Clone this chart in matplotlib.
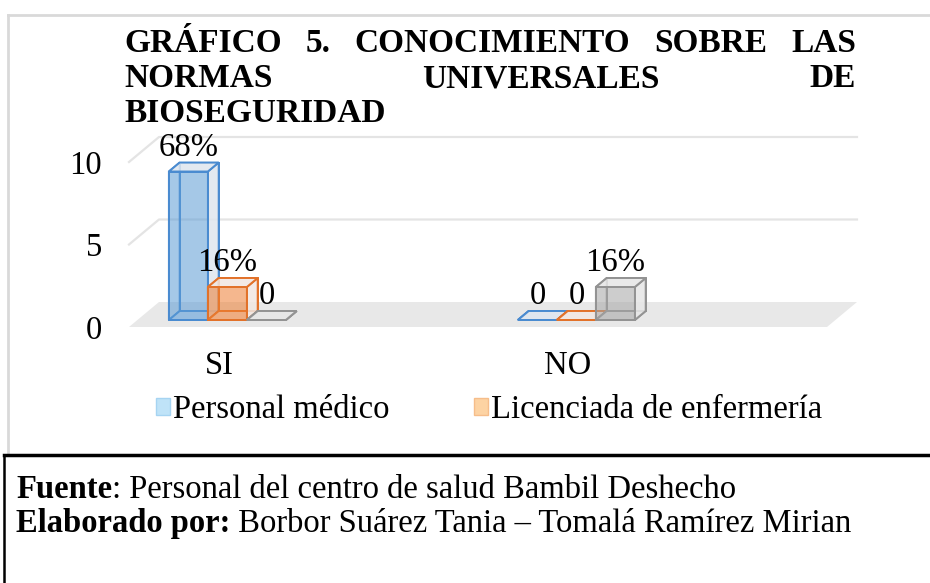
import numpy as np
import matplotlib.pyplot as plt
from matplotlib.patches import Polygon, Rectangle
from matplotlib.lines import Line2D

plt.rcParams['font.family'] = ['Liberation Serif', 'DejaVu Serif']

# datos
categorias = ['SI', 'NO']
leyenda = ['Personal médico', 'Licenciada de enfermería']
medico = [9, 0]
enfermeria = [2, 0]
otros = [0, 2]
etq_medico = ['68%', '0']
etq_enfermeria = ['16%', '0']
etq_otros = ['0', '16%']
yticks = [0, 5, 10]

W, H = 930, 583
fig = plt.figure(figsize=(W / 100, H / 100), dpi=100)
renderer = fig.canvas.get_renderer()

# ejes: plano frontal del grafico 3D
px_cat = 349.0
ppu = 16.5
x_izq, x_der = (129 - 219) / px_cat, (827 - 219) / px_cat
ax = fig.add_axes([129 / W, (H - 327) / H, (827 - 129) / W, 10 * ppu / H])
ax.set_xlim(x_izq, x_der)
ax.set_ylim(0, 10)
for s in ax.spines.values():
    s.set_visible(False)
ax.patch.set_visible(False)

DX = 30 / px_cat
DY = 25 / ppu

def proj(x, v, z):
    return (x + z * DX, v + z * DY)

# suelo y lineas de division
suelo = [proj(x_izq, 0, 0), proj(x_der, 0, 0), proj(x_der, 0, 1), proj(x_izq, 0, 1)]
ax.add_patch(Polygon(suelo, closed=True, fc='#e8e8e8', ec='none', clip_on=False, zorder=1))
for v in yticks[1:]:
    pts = [proj(x_izq, v, 0), proj(x_izq, v, 1), proj(x_der, v, 1)]
    ax.plot([p[0] for p in pts], [p[1] for p in pts], color='#e4e4e4', lw=1.6,
            clip_on=False, zorder=1)

ancho = 39 / px_cat
z0, z1 = 0.28, 0.64
estilos = [
    ('#5b9bd5', '#4a8bd0', '#dfe6ee'),
    ('#ed7d31', '#e2722a', '#f1e7e2'),
    ('#a5a5a5', '#939393', '#e6e6e6'),
]

def caja(x0, x1, h, color, borde, claro, zo):
    P = proj
    caras = [
        ([P(x0, 0, z1), P(x1, 0, z1), P(x1, h, z1), P(x0, h, z1)], 'none', 1),
        ([P(x0, 0, z0), P(x0, 0, z1), P(x0, h, z1), P(x0, h, z0)], 'none', 1),
        ([P(x0, 0, z0), P(x1, 0, z0), P(x1, 0, z1), P(x0, 0, z1)], claro, 1),
        ([P(x1, 0, z0), P(x1, 0, z1), P(x1, h, z1), P(x1, h, z0)], claro, 0.85),
        ([P(x0, h, z0), P(x1, h, z0), P(x1, h, z1), P(x0, h, z1)], claro, 0.85),
        ([P(x0, 0, z0), P(x1, 0, z0), P(x1, h, z0), P(x0, h, z0)], color, 0.55),
    ]
    for k, (pts, fc, a) in enumerate(caras):
        if fc != 'none':
            ax.add_patch(Polygon(pts, closed=True, fc=fc, alpha=a, ec='none',
                                 clip_on=False, zorder=zo + k * 0.01))
        ax.add_patch(Polygon(pts, closed=True, fc='none', ec=borde, lw=1.4,
                             clip_on=False, zorder=zo + k * 0.01 + 0.005))

valores = [medico, enfermeria, otros]
etiquetas = [etq_medico, etq_enfermeria, etq_otros]
for j in range(len(categorias)):
    for i, (vals, etq) in enumerate(zip(valores, etiquetas)):
        x0 = j + (i - 1.5) * ancho
        x1 = x0 + ancho
        color, borde, claro = estilos[i]
        caja(x0, x1, vals[j], color, borde, claro, 2 + i)
        xc, yc = proj((x0 + x1) / 2, vals[j], z1)
        xc = xc - (z1 - z0) * DX
        ax.annotate(etq[j], (xc, yc), xytext=(0, 5), textcoords='offset points',
                    ha='center', va='baseline', fontsize=23.5, annotation_clip=False,
                    zorder=10)

ax.set_yticks(yticks)
ax.set_xticks(range(len(categorias)), categorias)
ax.tick_params(axis='y', length=0, pad=19.5, labelsize=23.5)
ax.tick_params(axis='x', length=0, pad=17, labelsize=23.5)

# leyenda
manijas = [Rectangle((0, 0), 1, 1, fc='#bfe3f8', ec='#a6d4f2', lw=1),
           Rectangle((0, 0), 1, 1, fc='#fdd3a3', ec='#f6bd8a', lw=1)]
fig.legend(manijas, leyenda, loc='center left', bbox_to_anchor=(156 / W, 1 - 410 / H),
           ncol=2, frameon=False, fontsize=23.5, handlelength=0.42, handleheight=0.45,
           handletextpad=0.1, columnspacing=2.6, borderpad=0, borderaxespad=0)

# titulo justificado
def linea(palabras, y, x0, x1, justificar=True, **kw):
    textos = [fig.text(0, 1 - y / H, p, va='baseline', ha='left', **kw) for p in palabras]
    anchos = [t.get_window_extent(renderer).width for t in textos]
    if justificar and len(palabras) > 1:
        hueco = (x1 - x0 - sum(anchos)) / (len(palabras) - 1)
    else:
        hueco = 0
    x = x0
    for t, a in zip(textos, anchos):
        t.set_x(x / W)
        x += a + hueco

tit = dict(fontsize=24, fontweight='bold')
linea(['GRÁFICO', '5.', 'CONOCIMIENTO', 'SOBRE', 'LAS'], 52, 124, 856, **tit)
linea(['NORMAS', 'UNIVERSALES', 'DE'], 87, 124, 856, **tit)
linea(['BIOSEGURIDAD'], 122, 124, 856, justificar=False, **tit)

# fuente
def mixto(partes, y, x0):
    x = x0
    for txt, peso in partes:
        t = fig.text(x / W, 1 - y / H, txt, va='baseline', ha='left', fontsize=23.5,
                     fontweight=peso)
        x += t.get_window_extent(renderer).width

mixto([('Fuente', 'bold'), (': Personal del centro de salud Bambil Deshecho', 'normal')], 498, 16)
mixto([('Elaborado por:', 'bold'), (' Borbor Suárez Tania – Tomalá Ramírez Mirian', 'normal')], 532, 16)

# bordes
fig.add_artist(Line2D([8 / W, 1], [1 - 15 / H] * 2, color='#d9d9d9', lw=2))
fig.add_artist(Line2D([8 / W] * 2, [1 - 15 / H, 1 - 455 / H], color='#d9d9d9', lw=2))
fig.add_artist(Line2D([4 / W, 1], [1 - 455 / H] * 2, color='black', lw=2.5))
fig.add_artist(Line2D([4 / W] * 2, [1 - 455 / H, 0], color='black', lw=1.8))

fig.savefig('out.png', dpi=100)
